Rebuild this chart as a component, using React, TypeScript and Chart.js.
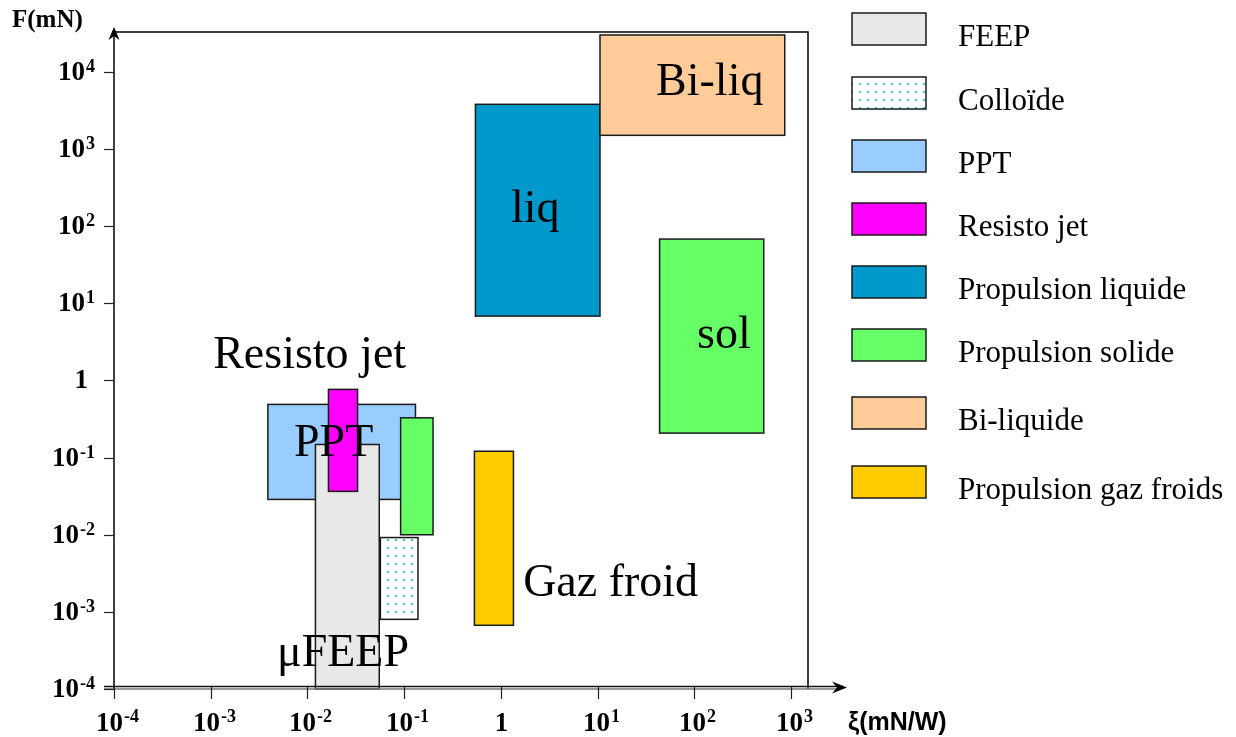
import { useEffect, useRef } from "react";
import { Chart, registerables } from "chart.js";

Chart.register(...registerables);

// ---- Data ----
const categories = [
  "FEEP",
  "Colloïde",
  "PPT",
  "Resisto jet",
  "Propulsion liquide",
  "Propulsion solide",
  "Bi-liquide",
  "Propulsion gaz froids",
];
const categoryColors = ["#E8E8E8", "dots", "#99CCFF", "#FF00FF", "#0099CC", "#66FF66", "#FFCC99", "#FFCC00"];

// zones (drawing order); category index, ξ range (mN/W), F range (mN)
const zoneCategory = [2, 0, 3, 5, 1, 4, 6, 5, 7];
const zoneXMin = [0.0039, 0.0121, 0.0165, 0.092, 0.0568, 0.546, 10.6, 43.8, 0.533];
const zoneXMax = [0.131, 0.0553, 0.033, 0.199, 0.139, 10.6, 862, 523, 1.35];
const zoneYMin = [0.0287, 0.0001, 0.0365, 0.01, 0.0008, 6.84, 1510, 0.208, 0.00067];
const zoneYMax = [0.49, 0.148, 0.767, 0.328, 0.0092, 3810, 30200, 68.2, 0.121];

// annotations, anchored (left, baseline) in data coordinates
const zoneLabels = ["Resisto jet", "PPT", "μFEEP", "Gaz froid", "sol", "liq", "Bi-liq"];
const zoneLabelX = [0.00106, 0.00726, 0.00485, 1.7, 107, 1.27, 40.3];
const zoneLabelY = [1.45, 0.105, 0.000199, 0.00161, 2.64, 113, 5030];

const xTickValues = [1e-4, 1e-3, 1e-2, 1e-1, 1, 10, 100, 1000];
const xTickBase = ["10", "10", "10", "10", "1", "10", "10", "10"];
const xTickExp = ["-4", "-3", "-2", "-1", "", "1", "2", "3"];
const yTickValues = [1e-4, 1e-3, 1e-2, 1e-1, 1, 10, 100, 1000, 10000];
const yTickBase = ["10", "10", "10", "10", "1", "10", "10", "10", "10"];
const yTickExp = ["-4", "-3", "-2", "-1", "", "1", "2", "3", "4"];

const xTitle = "ξ(mN/W)";
const yTitle = "F(mN)";

// ---- Layout (pixels) ----
const W = 1236;
const H = 737;
const legendTops = [13, 77, 140, 203, 266, 329, 397, 466];

const SERIF = '"Liberation Serif", "Times New Roman", serif';
const SANS = '"Liberation Sans", Arial, sans-serif';

let dotPattern: CanvasPattern | null = null;
function getFill(ctx: CanvasRenderingContext2D, c: string): string | CanvasPattern {
  if (c !== "dots") return c;
  if (!dotPattern) {
    const pc = document.createElement("canvas");
    pc.width = 8;
    pc.height = 8;
    const p = pc.getContext("2d")!;
    p.fillStyle = "#FFFFFF";
    p.fillRect(0, 0, 8, 8);
    p.fillStyle = "#3CD3A6";
    p.fillRect(3, 3, 2, 2);
    dotPattern = ctx.createPattern(pc, "repeat");
  }
  return dotPattern!;
}

function drawPow(
  ctx: CanvasRenderingContext2D,
  base: string,
  exp: string,
  x: number,
  baseline: number,
  align: "right" | "center",
  supDy: number
) {
  ctx.font = `bold 27px ${SERIF}`;
  const wb = ctx.measureText(base).width;
  ctx.font = `bold 18px ${SERIF}`;
  const we = exp ? ctx.measureText(exp).width + 1 : 0;
  const total = wb + we;
  const left = align === "right" ? x - total : x - total / 2;
  ctx.fillStyle = "#000";
  ctx.textAlign = "left";
  ctx.textBaseline = "alphabetic";
  ctx.font = `bold 27px ${SERIF}`;
  ctx.fillText(base, left, baseline);
  if (exp) {
    ctx.font = `bold 18px ${SERIF}`;
    ctx.fillText(exp, left + wb + 1, baseline - supDy);
  }
}

const zonesPlugin = {
  id: "zones",
  beforeDatasetsDraw(chart: any) {
    const { ctx } = chart;
    const x = chart.scales.x;
    const y = chart.scales.y;
    ctx.save();
    for (let i = 0; i < zoneCategory.length; i++) {
      const x0 = x.getPixelForValue(zoneXMin[i]);
      const x1 = x.getPixelForValue(zoneXMax[i]);
      const y0 = y.getPixelForValue(zoneYMax[i]);
      const y1 = y.getPixelForValue(zoneYMin[i]);
      ctx.fillStyle = getFill(ctx, categoryColors[zoneCategory[i]]);
      ctx.fillRect(x0, y0, x1 - x0, y1 - y0);
      ctx.strokeStyle = "#1a1a1a";
      ctx.lineWidth = 1.5;
      ctx.strokeRect(x0, y0, x1 - x0, y1 - y0);
    }
    ctx.restore();
  },
  afterDraw(chart: any) {
    const { ctx, chartArea } = chart;
    const x = chart.scales.x;
    const y = chart.scales.y;
    const { left, right, top, bottom } = chartArea;
    ctx.save();

    // frame (top & right)
    ctx.strokeStyle = "#000";
    ctx.lineWidth = 1.5;
    ctx.beginPath();
    ctx.moveTo(left, top);
    ctx.lineTo(right, top);
    ctx.lineTo(right, bottom);
    ctx.stroke();

    // y axis with arrow
    ctx.beginPath();
    ctx.moveTo(left, bottom);
    ctx.lineTo(left, top - 2);
    ctx.stroke();
    ctx.fillStyle = "#000";
    ctx.beginPath();
    ctx.moveTo(left, top - 5);
    ctx.lineTo(left + 5.5, top + 8);
    ctx.lineTo(left, top + 4);
    ctx.lineTo(left - 5.5, top + 8);
    ctx.closePath();
    ctx.fill();

    // x axis (double line) with arrow
    const axEnd = right + 39;
    ctx.strokeStyle = "#111";
    ctx.lineWidth = 1.5;
    ctx.beginPath();
    ctx.moveTo(left - 10, bottom - 2.5);
    ctx.lineTo(axEnd - 4, bottom - 2.5);
    ctx.stroke();
    ctx.strokeStyle = "#777";
    ctx.beginPath();
    ctx.moveTo(left - 10, bottom);
    ctx.lineTo(axEnd - 6, bottom);
    ctx.stroke();
    ctx.fillStyle = "#000";
    ctx.beginPath();
    ctx.moveTo(axEnd, bottom - 1.5);
    ctx.lineTo(axEnd - 15, bottom - 7.5);
    ctx.lineTo(axEnd - 10, bottom - 1.5);
    ctx.lineTo(axEnd - 15, bottom + 4.5);
    ctx.closePath();
    ctx.fill();

    // ticks
    ctx.strokeStyle = "#222";
    ctx.lineWidth = 1.2;
    for (let i = 0; i < xTickValues.length; i++) {
      const px = Math.round(x.getPixelForValue(xTickValues[i])) + 0.5;
      ctx.beginPath();
      ctx.moveTo(px, bottom - 2);
      ctx.lineTo(px, bottom + 10);
      ctx.stroke();
      drawPow(ctx, xTickBase[i], xTickExp[i], px + (xTickExp[i] ? 3 : 0), bottom + 42, "center", 9);
    }
    for (let i = 0; i < yTickValues.length; i++) {
      const py = Math.round(y.getPixelForValue(yTickValues[i])) + 0.5;
      ctx.beginPath();
      ctx.moveTo(left - 10, py);
      ctx.lineTo(left, py);
      ctx.stroke();
      drawPow(ctx, yTickBase[i], yTickExp[i], yTickExp[i] ? left - 19 : left - 26, py + 7, "right", 8);
    }

    // axis titles
    ctx.fillStyle = "#000";
    ctx.textAlign = "left";
    ctx.textBaseline = "alphabetic";
    ctx.font = `bold 25px ${SERIF}`;
    ctx.fillText(yTitle, 12, top - 5);
    ctx.font = `bold 25px ${SANS}`;
    ctx.fillText(xTitle, right + 40, bottom + 41);

    // zone annotations
    ctx.font = `46px ${SERIF}`;
    for (let i = 0; i < zoneLabels.length; i++) {
      ctx.fillText(zoneLabels[i], x.getPixelForValue(zoneLabelX[i]), y.getPixelForValue(zoneLabelY[i]));
    }

    // legend
    const lx = right + 44;
    for (let i = 0; i < categories.length; i++) {
      const ty = legendTops[i];
      ctx.fillStyle = getFill(ctx, categoryColors[i]);
      ctx.fillRect(lx, ty, 74, 32);
      ctx.strokeStyle = "#1a1a1a";
      ctx.lineWidth = 1.5;
      ctx.strokeRect(lx, ty, 74, 32);
      ctx.fillStyle = "#000";
      ctx.font = `31px ${SERIF}`;
      ctx.fillText(categories[i], lx + 106, ty + 33);
    }
    ctx.restore();
  },
};

export default function App() {
  const ref = useRef<HTMLCanvasElement>(null);
  useEffect(() => {
    if (!ref.current) return;
    const datasets = zoneCategory.map((c, i) => ({
      label: categories[c],
      data: [
        { x: zoneXMin[i], y: zoneYMin[i] },
        { x: zoneXMax[i], y: zoneYMax[i] },
      ],
      pointRadius: 0,
      showLine: false,
    }));
    const chart = new Chart(ref.current, {
      type: "scatter",
      data: { datasets },
      options: {
        responsive: false,
        animation: false,
        devicePixelRatio: 1,
        layout: { padding: { left: 114, top: 32, right: W - 808, bottom: H - 689 } },
        plugins: { legend: { display: false }, tooltip: { enabled: false } },
        scales: {
          x: { type: "logarithmic", min: 1e-4, max: 1500, display: false },
          y: { type: "logarithmic", min: 1e-4, max: 33000, display: false },
        },
      },
      plugins: [zonesPlugin],
    } as any);
    return () => chart.destroy();
  }, []);
  return (
    <div style={{ position: "absolute", left: 0, top: 0, width: W, height: H, background: "#fff" }}>
      <canvas ref={ref} width={W} height={H} style={{ width: W, height: H, display: "block" }} />
    </div>
  );
}
